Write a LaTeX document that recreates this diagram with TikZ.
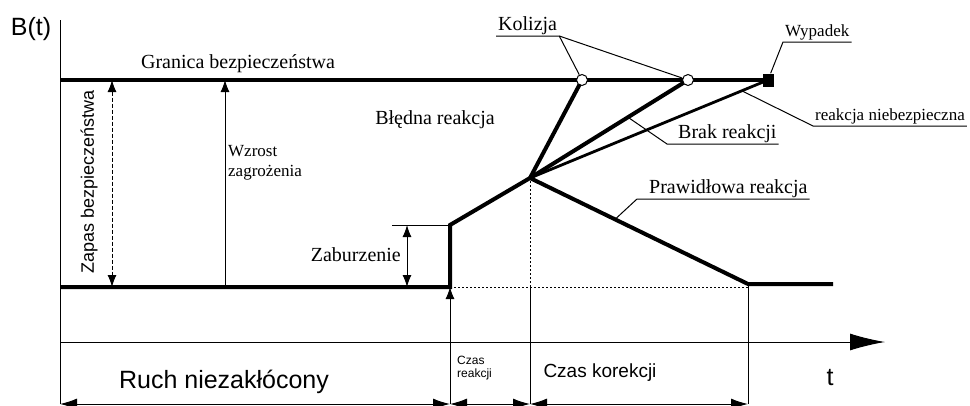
\documentclass[tikz,border=0pt]{standalone}
\usepackage{fontspec}
\setmainfont{Liberation Serif}
\setsansfont{Liberation Sans}
\usetikzlibrary{positioning}
\usetikzlibrary{calc,arrows.meta}

\begin{document}
\begin{tikzpicture}[x=1pt,y=-1pt,
  gruba/.style={line width=4pt},
  srednia/.style={line width=2.8pt},
  cienka/.style={line width=1pt},
  kropki/.style={line width=1pt,dash pattern=on 2pt off 2pt},
  kreski/.style={line width=1pt,dash pattern=on 4pt off 2pt},
  grot/.style={-{Latex[length=12pt,width=9pt]}},
  grotdwa/.style={{Latex[length=12pt,width=9pt]}-{Latex[length=12pt,width=9pt]}},
  wymiar/.style={{Latex[length=17pt,width=11pt]}-{Latex[length=17pt,width=11pt]}},
  kolo/.style={circle,draw,fill=white,line width=1pt,minimum size=11pt,inner sep=0pt},
  kwadrat/.style={fill=black,minimum width=11pt,minimum height=13pt,inner sep=0pt},
  opis/.style={font=\fontsize{20}{22}\selectfont},
  maly/.style={font=\fontsize{17}{20}\selectfont},
  podpis/.style={inner xsep=2pt,inner ysep=1.5pt,anchor=south west},
  arial/.style={font=\sffamily\fontsize{#1}{#1}\selectfont}
]
\useasboundingbox (0,0) rectangle (970,405);

\coordinate (osY) at (60,20);
\coordinate (o) at (60,404);
\coordinate (g0) at (60,80);
\coordinate (b0) at (60,287);
\coordinate (z0) at (450,287);
\coordinate (z1) at (450,225);
\coordinate (piv) at (530,178);
\coordinate (pd) at (530,287);
\coordinate (k0) at (748,284);
\coordinate (k1) at (833,284);
\coordinate (kd) at (748,287);
\coordinate (p1) at (582,80);
\coordinate (p2) at (688,80);
\coordinate (p3) at (768,80);
\coordinate (t0) at (60,342);
\coordinate (t1) at (885,342);
\coordinate (d1) at (450,404);
\coordinate (d2) at (530,404);
\coordinate (d3) at (748,404);

\draw[cienka] (osY) -- (o);
\draw[cienka,-{Latex[length=35pt,width=17pt]}] (t0) -- (t1);
\draw[cienka,wymiar] (o) -- (d1);
\draw[cienka,wymiar] (d1) -- (d2);
\draw[cienka,wymiar] (d2) -- (d3);
\draw[cienka,grot] (d1) -- (z0);
\draw[cienka] (d2) -- (pd);
\draw[cienka] (d3) -- (k0);
\draw[kropki] (pd) -- (piv);
\draw[kropki] (z0) -- (kd);

\draw[gruba] (g0) -- (p3);
\draw[gruba] (b0) -- (z0) -- (z1) -- (piv) -- (k0) -- (k1);
\draw[gruba] (piv) -- (p1);
\draw[gruba] (piv) -- (p2);
\draw[srednia] (piv) -- (p3);

\node[kolo] (c1) at (p1) {};
\node[kolo] (c2) at (p2) {};
\node[kwadrat] (wyp) at (p3) {};

\coordinate (zp0) at (112,80);
\coordinate (zp1) at (112,287);
\draw[kreski,grotdwa] (zp0) -- (zp1);
\coordinate (wz0) at (225,287);
\coordinate (wz1) at (225,80);
\draw[cienka,grot] (wz0) -- (wz1);
\coordinate (zb0) at (407,225);
\coordinate (zb1) at (407,287);
\coordinate (zbL) at (392,225);
\draw[cienka,grotdwa] (zb0) -- (zb1);
\draw[cienka] (zbL) -- (z1);

\node[arial=25] (bt) at (31,29) {B(t)};
\node[arial=25] (t) at (830,378) {t};
\node[opis] (granica) at (238,64) {Granica bezpieczeństwa};
\node[opis] (bledna) at (435,120) {Błędna reakcja};
\node[arial=18,rotate=90] (zapas) at (89,182) {Zapas bezpieczeństwa};
\node[maly,anchor=west,align=left,inner sep=1pt] (wzrost) at (227,163) {Wzrost\\zagrożenia};
\node[opis,anchor=east,inner sep=0pt] (zaburz) at (401,255) {Zaburzenie};
\node[arial=25] (ruch) at (224,382) {Ruch niezakłócony};
\node[font=\sffamily\fontsize{12}{13.5}\selectfont,anchor=west,align=left,inner sep=1pt] (czasr) at (456,368) {Czas\\reakcji};
\node[arial=19] (czask) at (600,373) {Czas korekcji};

\node[opis,podpis] (kolizja) at (496,36) {Kolizja};
\draw[cienka] (kolizja.south west) -- (kolizja.south east) -- (c1);
\draw[cienka] (kolizja.south east) -- (c2);

\node[maly,podpis] (wypadek) at (783,42) {Wypadek};
\draw[cienka] (wypadek.south east) -- (wypadek.south west) -- (wyp);

\coordinate (rn) at ($(piv)!0.89!(p3)$);
\node[maly,podpis] (niebezp) at (813,126) {reakcja niebezpieczna};
\draw[cienka] (niebezp.south east) -- (niebezp.south west) -- (rn);

\coordinate (br) at ($(piv)!0.62!(p2)$);
\coordinate (brakL) at (667,144);
\node[opis,podpis] (brak) at (676,144) {Brak reakcji};
\draw[cienka] (brak.south east) -- (brakL) -- (br);

\coordinate (pr) at ($(piv)!0.39!(k0)$);
\coordinate (prawL) at (637,199);
\node[opis,podpis] (praw) at (647,199) {Prawidłowa reakcja};
\draw[cienka] (praw.south east) -- (prawL) -- (pr);
\end{tikzpicture}
\end{document}
